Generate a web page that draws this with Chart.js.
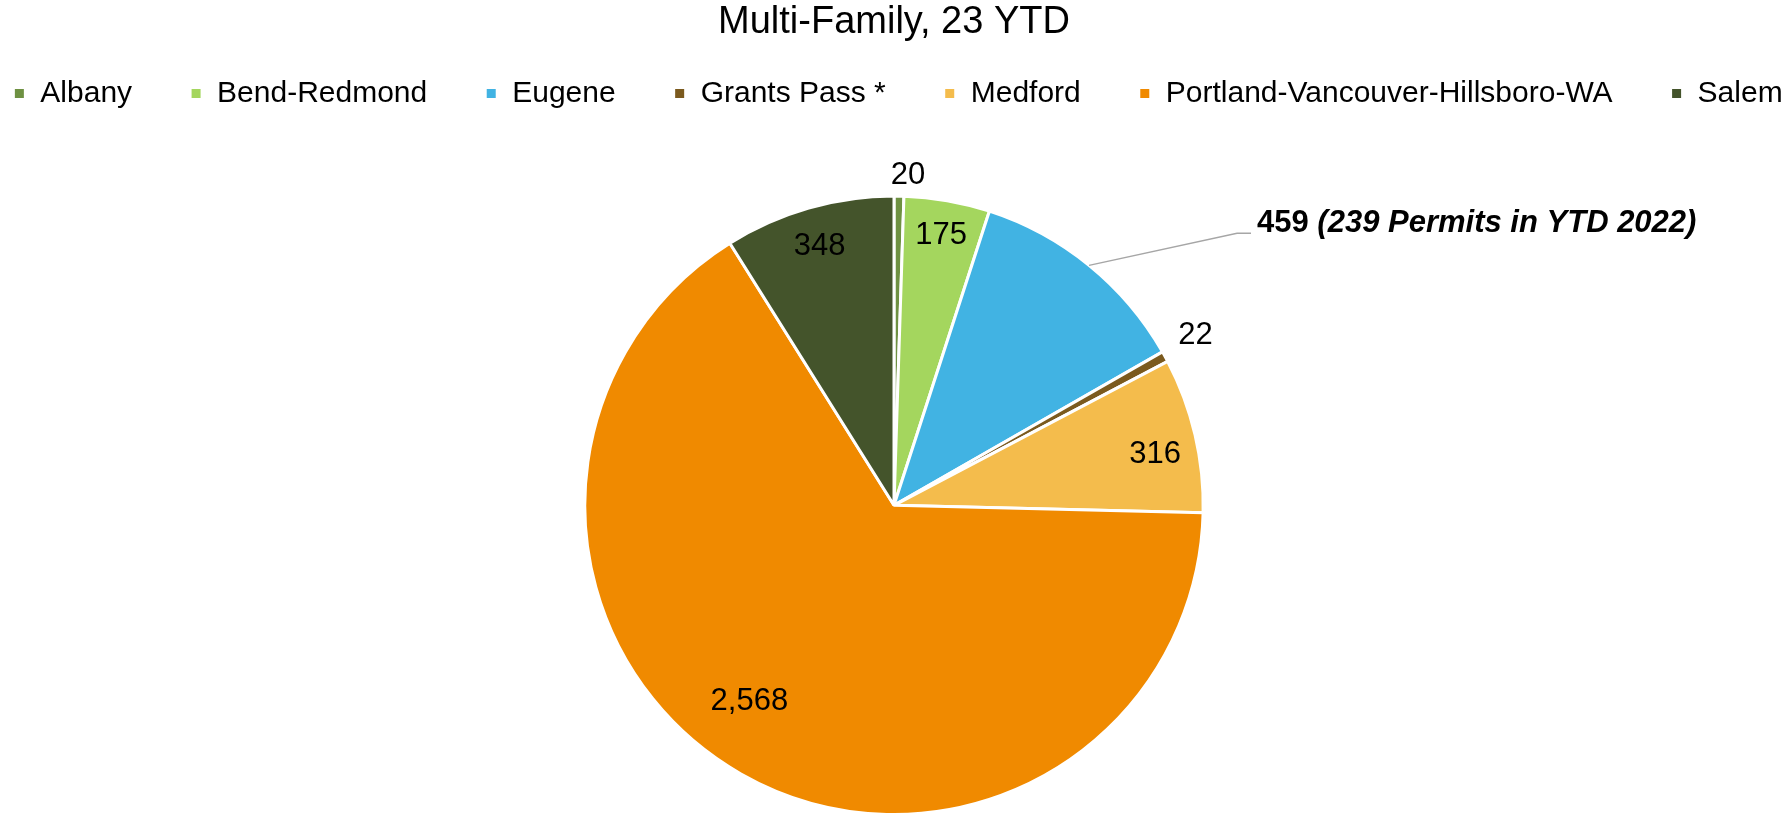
<!DOCTYPE html>
<html>
<head>
<meta charset="utf-8">
<script src="https://cdn.jsdelivr.net/npm/chart.js@4"></script>
<style>
  body { margin: 0; background: #fff; }
  #wrap { width: 1788px; height: 816px; position: relative; }
</style>
</head>
<body>
<div id="wrap"><canvas id="pie"></canvas></div>
<script>
const regions = ['Albany', 'Bend-Redmond', 'Eugene', 'Grants Pass *', 'Medford', 'Portland-Vancouver-Hillsboro-WA', 'Salem'];
const permits = [20, 175, 459, 22, 316, 2568, 348];
const colors = ['#6E9142', '#A4D65E', '#41B3E3', '#7B5A1E', '#F4BC4C', '#F08A00', '#44542B'];
const eugeneNote = '(239 Permits in YTD 2022)';

// where each value label sits: r = fraction of radius, shift = degrees added to mid angle
const labelPlace = [
    {r: 1.068, shift: 1.5},
    {r: 0.886, shift: 0},
    {callout: true},
    {r: 1.12, shift: -0.7},
    {r: 0.86, shift: 2.2},
    {r: 0.787, shift: 6.8},
    {r: 0.87, shift: 0}
];

const valueLabels = {
    id: 'valueLabels',
    afterDatasetsDraw(chart) {
        const ctx = chart.ctx;
        const meta = chart.getDatasetMeta(0);
        ctx.save();
        meta.data.forEach((arc, i) => {
            const p = arc.getProps(['x', 'y', 'startAngle', 'endAngle', 'outerRadius'], true);
            const place = labelPlace[i];
            const text = permits[i].toLocaleString('en-US');
            if (place.callout) {
                const mid = (p.startAngle + p.endAngle) / 2;
                const ex = p.x + Math.cos(mid) * p.outerRadius;
                const ey = p.y + Math.sin(mid) * p.outerRadius;
                const bx = ex + 148, by = ey - 32;
                ctx.strokeStyle = '#A6A6A6';
                ctx.lineWidth = 1.5;
                ctx.beginPath();
                ctx.moveTo(ex, ey);
                ctx.lineTo(bx, by);
                ctx.lineTo(bx + 14, by);
                ctx.stroke();
                ctx.fillStyle = '#000';
                ctx.textBaseline = 'middle';
                ctx.textAlign = 'left';
                ctx.font = 'bold 31px "Liberation Sans"';
                const tx = bx + 20, ty = by - 10;
                ctx.fillText(text + ' ', tx, ty);
                const w = ctx.measureText(text + ' ').width;
                ctx.font = 'italic bold 31px "Liberation Sans"';
                ctx.fillText(eugeneNote, tx + w, ty);
                return;
            }
            const mid = (p.startAngle + p.endAngle) / 2 + place.shift * Math.PI / 180;
            const x = p.x + Math.cos(mid) * p.outerRadius * place.r;
            const y = p.y + Math.sin(mid) * p.outerRadius * place.r;
            ctx.fillStyle = '#000';
            ctx.font = '31px "Liberation Sans"';
            ctx.textAlign = 'center';
            ctx.textBaseline = 'middle';
            ctx.fillText(text, x, y);
        });
        ctx.restore();
    }
};

// keep the legend on one row, leave room under it, and lift it closer to the title
const legendTweak = {
    id: 'legendTweak',
    beforeInit(chart) {
        const fit = chart.legend.fit;
        chart.legend.fit = function () {
            const mw = this.maxWidth;
            this.maxWidth = mw + 300;
            fit.call(this);
            this.maxWidth = mw;
            this.width = Math.min(this.width, mw);
            this.height += 51;
        };
    },
    afterLayout(chart) {
        const lg = chart.legend;
        lg.top -= 25;
        lg.bottom -= 25;
        lg.left -= 146;
        lg.right += 154;
        lg.width += 300;
    }
};

new Chart(document.getElementById('pie'), {
    type: 'pie',
    data: {
        labels: regions,
        datasets: [{
            data: permits,
            backgroundColor: colors,
            borderColor: '#FFFFFF',
            borderWidth: 3
        }]
    },
    options: {
        responsive: true,
        maintainAspectRatio: false,
        animation: false,
        layout: { padding: 0 },
        plugins: {
            title: {
                display: true,
                text: 'Multi-Family, 23 YTD',
                color: '#000',
                font: { family: '"Liberation Sans"', size: 38, weight: 'normal' },
                padding: { top: 0, bottom: 0 }
            },
            legend: {
                position: 'top',
                labels: {
                    color: '#000',
                    font: { family: '"Liberation Sans"', size: 30 },
                    boxWidth: 12,
                    boxHeight: 12,
                    padding: 58
                }
            },
            tooltip: { enabled: false }
        }
    },
    plugins: [valueLabels, legendTweak]
});
</script>
</body>
</html>
